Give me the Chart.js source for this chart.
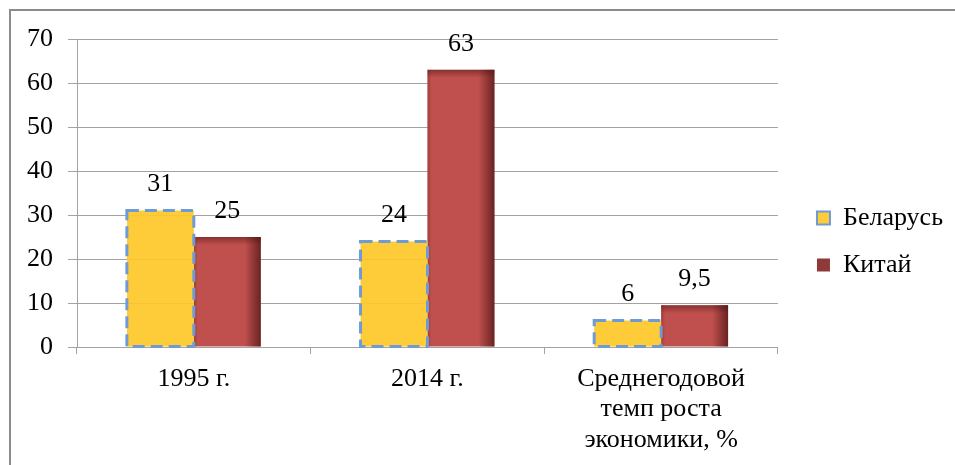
<!DOCTYPE html>
<html>
<head>
<meta charset="utf-8">
<script src="https://cdn.jsdelivr.net/npm/chart.js@4"></script>
<style>
  html, body { margin: 0; padding: 0; background: #fff; }
  #wrap { width: 955px; height: 465px; }
</style>
</head>
<body>
<div id="wrap"><canvas id="cv" width="955" height="465"></canvas></div>
<script>
// data
const categories = ['1995 г.', '2014 г.', ['Среднегодовой', 'темп роста', 'экономики, %']];
const belarus = [31, 24, 6];
const china = [25, 63, 9.5];
const seriesNames = ['Беларусь', 'Китай'];
const yTicks = [0, 10, 20, 30, 40, 50, 60, 70];

const GRID = '#a3a3a3';
const SERIF = "'Liberation Serif', 'Times New Roman', serif";
const FS = 26;

Chart.defaults.font.family = SERIF;
Chart.defaults.font.size = FS;
Chart.defaults.color = '#000';

// outer frame of the picture
const frame = {
    id: 'frame',
    beforeDraw(chart){
        const ctx = chart.ctx;
        ctx.save();
        ctx.fillStyle = '#fff';
        ctx.fillRect(0, 0, chart.width, chart.height);
        ctx.strokeStyle = '#8c8c8c';
        ctx.lineWidth = 2;
        ctx.strokeRect(10, 10, chart.width + 20, chart.height + 20);
        ctx.restore();
    }
};

// dashed outline on the yellow bars, darker edges on the red ones
const barStyle = {
    id: 'barStyle',
    afterDatasetDraw(chart, args){
        const ctx = chart.ctx;
        ctx.save();
        if(args.index === 0){
            ctx.strokeStyle = '#6f9bd4';
            ctx.lineWidth = 3;
            ctx.setLineDash([12, 6]);
            args.meta.data.forEach(bar => {
                const l = bar.x - bar.width / 2, t = bar.y;
                ctx.strokeRect(l, t, bar.width, bar.base - t);
            });
        }
        if(args.index === 1){
            args.meta.data.forEach(bar => {
                const l = bar.x - bar.width / 2, r = bar.x + bar.width / 2, t = bar.y, b = bar.base;
                let g = ctx.createLinearGradient(r - 16, 0, r, 0);
                g.addColorStop(0, 'rgba(75,20,20,0)');
                g.addColorStop(1, 'rgba(75,20,20,0.75)');
                ctx.fillStyle = g;
                ctx.fillRect(r - 16, t, 16, b - t);
                g = ctx.createLinearGradient(0, t, 0, t + 8);
                g.addColorStop(0, 'rgba(75,20,20,0.5)');
                g.addColorStop(1, 'rgba(75,20,20,0)');
                ctx.fillStyle = g;
                ctx.fillRect(l, t, r - l, Math.min(8, b - t));
                g = ctx.createLinearGradient(l, 0, l + 4, 0);
                g.addColorStop(0, 'rgba(75,20,20,0.3)');
                g.addColorStop(1, 'rgba(75,20,20,0)');
                ctx.fillStyle = g;
                ctx.fillRect(l, t, 4, b - t);
            });
        }
        ctx.restore();
    }
};

// value labels above the bars
const valueLabels = {
    id: 'valueLabels',
    afterDatasetsDraw(chart){
        const ctx = chart.ctx;
        ctx.save();
        ctx.font = FS + 'px ' + SERIF;
        ctx.fillStyle = '#000';
        ctx.textAlign = 'center';
        ctx.textBaseline = 'middle';
        chart.data.datasets.forEach((ds, i) => {
            chart.getDatasetMeta(i).data.forEach((bar, j) => {
                ctx.fillText(String(ds.data[j]).replace('.', ','), bar.x, bar.y - 26);
            });
        });
        ctx.restore();
    }
};

const blank = w => ({
    type: 'linear', display: true,
    grid: { display: false }, ticks: { display: false }, border: { display: false }
});

new Chart(document.getElementById('cv').getContext('2d'), {
    type: 'bar',
    data: {
        labels: categories,
        datasets: [
            { label: seriesNames[0], data: belarus, backgroundColor: 'rgba(255,200,40,0.92)',
              borderColor: '#6f9bd4', borderWidth: 0, xAxisID: 'x', yAxisID: 'y' },
            { label: seriesNames[1], data: china, backgroundColor: '#c0504d', borderWidth: 0,
              xAxisID: 'x', yAxisID: 'y' }
        ]
    },
    options: {
        responsive: false,
        animation: false,
        layout: { padding: { top: 18, bottom: 0, left: 0, right: 2 } },
        datasets: { bar: { categoryPercentage: 0.573, barPercentage: 1 } },
        plugins: {
            tooltip: { enabled: false },
            legend: {
                position: 'right',
                maxWidth: 200,
                labels: {
                    boxWidth: 13, boxHeight: 13, padding: 21,
                    font: { size: FS, family: SERIF }, color: '#000',
                    generateLabels(chart){
                        const items = Chart.defaults.plugins.legend.labels.generateLabels(chart);
                        items[0].lineWidth = 2;
                        items[0].strokeStyle = '#6f9bd4';
                        items[1].fillStyle = '#8e3a38';
                        items[1].lineWidth = 0;
                        return items;
                    }
                }
            }
        },
        scales: {
            x: {
                grid: { display: true, drawOnChartArea: false, drawTicks: true, tickLength: 7, color: GRID },
                border: { display: true, color: GRID },
                ticks: { padding: 10, font: { size: FS, family: SERIF, lineHeight: 1.17 }, color: '#000', maxRotation: 0, autoSkip: false },
                afterFit(s){ s.height = 118; }
            },
            y: {
                min: 0, max: 70,
                grid: { color: GRID, tickLength: 9 },
                border: { display: true, color: GRID },
                ticks: { stepSize: 10, padding: 15, font: { size: FS, family: SERIF }, color: '#000' },
                afterBuildTicks(s){ s.ticks = yTicks.map(v => ({ value: v })); },
                afterFit(s){ s.width = 77; }
            },
            gapTop: Object.assign(blank(), { axis: 'x', position: 'top', afterFit(s){ s.height = 21; } }),
            gapRight: Object.assign(blank(), { axis: 'y', position: 'right', afterFit(s){ s.width = 18; } })
        }
    },
    plugins: [frame, barStyle, valueLabels]
});
</script>
</body>
</html>
